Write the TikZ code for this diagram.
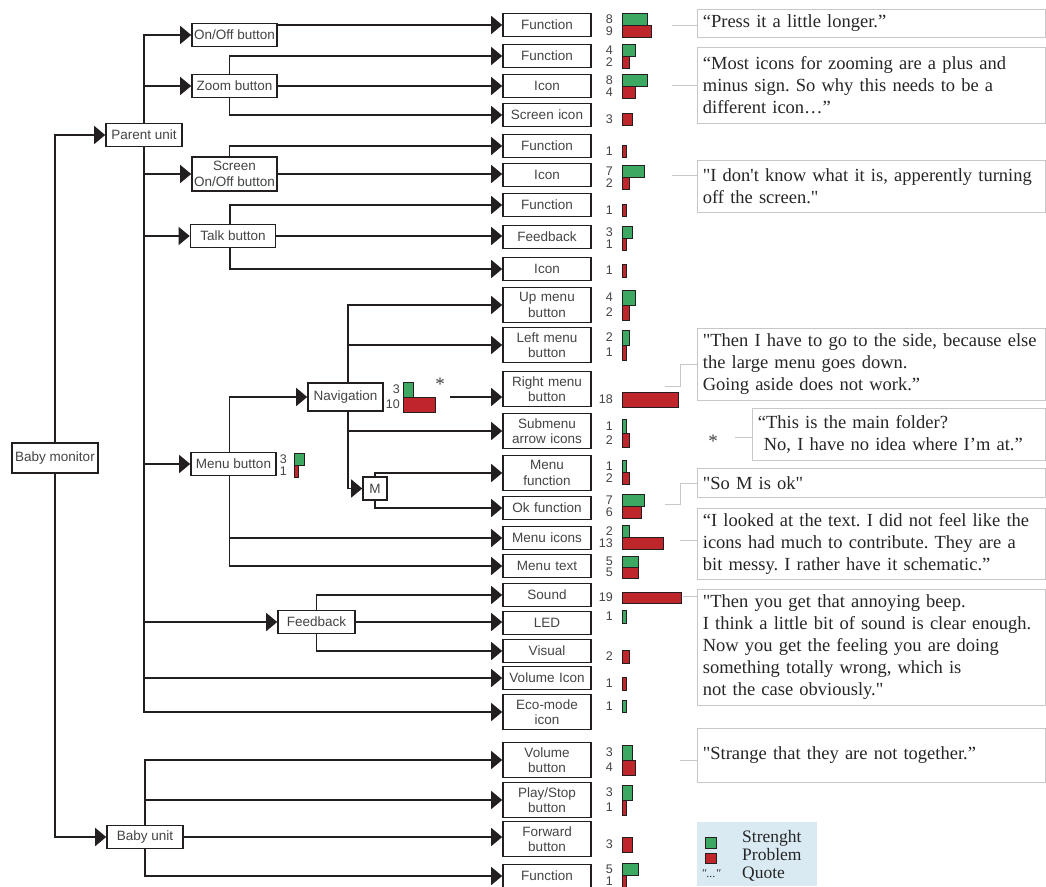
\documentclass[tikz,border=0pt]{standalone}
\usepackage{fontspec}
\setmainfont{Liberation Serif}
\setsansfont{Liberation Sans}
\newfontfamily\quotefont{Liberation Serif}
\usetikzlibrary{arrows.meta}
\definecolor{strength}{RGB}{61,168,98}
\definecolor{problem}{RGB}{190,38,44}
\definecolor{legendbg}{RGB}{218,234,242}
\definecolor{ink}{RGB}{35,31,32}
\definecolor{labelgray}{RGB}{68,68,68}
\frenchspacing
\begin{document}
\begin{tikzpicture}[x=1pt, y=-1pt, >={Triangle[length=11pt, width=18pt]},
    every node/.style={font=\sffamily\fontsize{13.5}{15.5}\selectfont, text=labelgray},
    box/.style={draw=ink, line width=1.6pt, fill=white, inner xsep=2pt, inner ysep=3pt, minimum height=23pt, align=center},
    unit/.style={box, minimum width=85pt},
    leaf/.style={box, text width=82pt, minimum width=88pt},
    leaftwo/.style={leaf, minimum height=35pt},
    wire/.style={draw=ink, line width=1.4pt},
    barbox/.style={draw=ink, line width=0.9pt},
    tally/.style={font=\sffamily\fontsize{12.5}{12.5}\selectfont, anchor=east, inner sep=0pt},
    remark/.style={draw=black!22, line width=0.7pt, anchor=north west, text width=337pt, inner xsep=5.5pt, inner ysep=2pt,
        align=left, font={\quotefont\fontsize{18.5}{22}\selectfont\hyphenpenalty=10000}, text=black!85},
    remarkline/.style={draw=black!22, line width=0.7pt},
    starmark/.style={font=\quotefont\fontsize{19}{19}\selectfont, text=black!75, inner sep=0pt},
    keytext/.style={font=\quotefont\fontsize{17.5}{18}\selectfont, text=black!85, anchor=base west, inner sep=0pt}]
    \useasboundingbox (0,0) rectangle (1046,886);
    \fill[white] (0,0) rectangle (1046,886);

    \node[box, minimum width=86pt, minimum height=30pt] (monitor) at (55,458) {Baby monitor};
    \node[box, minimum width=76pt] (parent) at (144,135) {Parent unit};
    \node[box, minimum width=76pt] (baby) at (145,837) {Baby unit};

    \node[unit] (onOff) at (234.5,35) {On/Off button};
    \node[unit] (zoom) at (234.5,86) {Zoom button};
    \node[unit, minimum height=34pt] (screen) at (234.5,174) {Screen\\On/Off button};
    \node[unit] (talk) at (233,236) {Talk button};
    \node[unit] (menu) at (233.5,464) {Menu button};
    \node[box, minimum width=77pt] (feedback) at (316.5,622) {Feedback};
    \node[box, minimum width=75pt, minimum height=28pt] (nav) at (345.5,397) {Navigation};
    \node[box, minimum width=24pt] (m) at (375,488.5) {M};

    \node[leaf] (fOnOff) at (547,25) {Function};
    \node[leaf] (fZoom) at (547,56) {Function};
    \node[leaf] (iZoom) at (547,86) {Icon};
    \node[leaf] (screenIcon) at (547,115) {Screen icon};
    \node[leaf] (fScreen) at (547,146) {Function};
    \node[leaf] (iScreen) at (547,175) {Icon};
    \node[leaf] (fTalk) at (547,205) {Function};
    \node[leaf] (fbTalk) at (547,237) {Feedback};
    \node[leaf] (iTalk) at (547,269) {Icon};
    \node[leaftwo] (upMenu) at (547,305) {Up menu\\button};
    \node[leaftwo] (leftMenu) at (547,345) {Left menu\\button};
    \node[leaftwo] (rightMenu) at (547,389) {Right menu\\button};
    \node[leaftwo] (subMenu) at (547,431) {Submenu\\arrow icons};
    \node[leaftwo] (menuFunc) at (547,473) {Menu\\function};
    \node[leaf] (okFunc) at (547,508) {Ok function};
    \node[leaf] (menuIcons) at (547,538) {Menu icons};
    \node[leaf] (menuText) at (547,566) {Menu text};
    \node[leaf] (sound) at (547,595) {Sound};
    \node[leaf] (led) at (547,623) {LED};
    \node[leaf] (visual) at (547,651) {Visual};
    \node[leaf] (volIcon) at (547,678) {Volume Icon};
    \node[leaftwo] (ecoIcon) at (547,712) {Eco-mode\\icon};
    \node[leaftwo] (volButton) at (547,760) {Volume\\button};
    \node[leaftwo] (playButton) at (547,800) {Play/Stop\\button};
    \node[leaftwo] (fwdButton) at (547,839) {Forward\\button};
    \node[leaf] (fBaby) at (547,876) {Function};

    \draw[wire, ->] (monitor.north) |- (parent.west);
    \draw[wire, ->] (monitor.south) |- (baby.west);
    \foreach \n in {onOff, zoom}
        \draw[wire, ->] (parent.north) |- (\n.west);
    \foreach \n in {screen, talk, menu, feedback, volIcon, ecoIcon}
        \draw[wire, ->] (parent.south) |- (\n.west);

    \draw[wire, ->] (onOff.east |- fOnOff) -- (fOnOff.west);
    \draw[wire, ->] ([xshift=-5pt]zoom.north) |- (fZoom.west);
    \draw[wire, ->] (zoom) -- (iZoom);
    \draw[wire, ->] ([xshift=-5pt]zoom.south) |- (screenIcon.west);
    \draw[wire, ->] ([xshift=-5pt]screen.north) |- (fScreen.west);
    \draw[wire, ->] (screen.east) -- (screen.east -| iScreen.west);
    \draw[wire, ->] ([xshift=-3pt]talk.north) |- (fTalk.west);
    \draw[wire, ->] (talk.east) -- (talk.east -| fbTalk.west);
    \draw[wire, ->] ([xshift=-3pt]talk.south) |- (iTalk.west);

    \draw[wire, ->] ([xshift=-4pt]menu.north) |- (nav.west);
    \draw[wire, ->] ([xshift=-4pt]menu.south) |- (menuIcons.west);
    \draw[wire, ->] ([xshift=-4pt]menu.south) |- (menuText.west);
    \foreach \n in {upMenu, leftMenu}
        \draw[wire, ->] ([xshift=2.5pt]nav.north) |- (\n.west);
    \foreach \n in {subMenu, m}
        \draw[wire, ->] ([xshift=2.5pt]nav.south) |- (\n.west);
    \coordinate (navOut) at (450,397);
    \draw[wire, ->] (navOut) -- (navOut -| rightMenu.west);
    \draw[wire, ->] (m.north) |- (menuFunc.west);
    \draw[wire, ->] (m.south) |- (okFunc.west);

    \draw[wire, ->] (feedback.north) |- (sound.west);
    \draw[wire, ->] (feedback.east) -- (feedback.east -| led.west);
    \draw[wire, ->] (feedback.south) |- (visual.west);

    \draw[wire, ->] (baby.north) |- (volButton.west);
    \draw[wire, ->] (baby.north) |- (playButton.west);
    \draw[wire, ->] (baby.east) -- (baby.east -| fwdButton.west);
    \draw[wire, ->] (baby.south) |- (fBaby.west);

    \foreach \x/\d/\m/\g/\r/\h [count=\k] in {
        622/9/25/8/9/12, 622/9/56/4/2/12, 622/9/86/8/4/12, 622/9/113/0/3/12,
        622/9/145/0/1/12, 622/9/177/7/2/12, 622/9/204/0/1/12, 622/9/238/3/1/12,
        622/9/264/0/1/13, 622/9/305/4/2/15, 622/9/345/2/1/15, 622/9/392/0/18/15,
        622/9/433/1/2/14, 622/9/472/1/2/12, 622/9/506/7/6/12, 622/9/537/2/13/12,
        622/9/567/5/5/11, 622/9/592/0/19/11, 622/9/623/1/0/13, 622/9/650/0/2/13,
        622/9/677/0/1/13, 622/9/712/1/0/12, 622/9/760/3/4/15, 622/9/800/3/1/15,
        622/9/837/0/3/15, 622/9/875/5/1/12, 294/7/465/3/1/12, 403/3/397/3/10/15} {
        \ifnum\g>0
            \draw[barbox, fill=strength] (\x,\m-\h) rectangle ++({1.5+3.05*\g},\h);
            \node[tally] (g\k) at (\x-\d,\m-\h/2) {\g};
        \fi
        \ifnum\r>0
            \draw[barbox, fill=problem] (\x,\m) rectangle ++({1.5+3.05*\r},\h);
            \node[tally] (r\k) at (\x-\d,\m+\h/2) {\r};
        \fi
    }

    \node[starmark] (navStar) at (440,384) {*};
    \node[starmark] (quoteStar) at (713,441) {*};

    \node[remark, minimum height=28pt] (q1) at (697,9) {“Press it a little longer.”};
    \node[remark, minimum height=76pt] (q2) at (697,47) {“Most icons for zooming are a plus and\\minus sign. So why this needs to be a\\different icon…”};
    \node[remark, minimum height=52pt] (q3) at (697,160) {"I don't know what it is, apperently turning\\off the screen."};
    \node[remark, minimum height=72pt] (q4) at (697,328) {"Then I have to go to the side, because else\\the large menu goes down.\\Going aside does not work.”};
    \node[remark, minimum height=52pt, text width=282pt] (q5) at (752,408) {“This is the main folder?\\\hspace*{6pt}No, I have no idea where I’m at.”};
    \node[remark, minimum height=29pt] (q6) at (697,468) {"So M is ok"};
    \node[remark, minimum height=71pt] (q7) at (697,508) {“I looked at the text. I did not feel like the\\icons had much to contribute. They are a\\bit messy. I rather have it schematic.”};
    \node[remark, minimum height=116pt] (q8) at (697,589) {"Then you get that annoying beep.\\I think a little bit of sound is clear enough.\\Now you get the feeling you are doing\\something totally wrong, which is\\not the case obviously."};
    \node[remark, minimum height=54pt] (q9) at (697,728) {"Strange that they are not together.”};

    \coordinate (c1) at (672,25);
    \coordinate (c2) at (672,85);
    \coordinate (c3) at (672,175);
    \coordinate (c4) at (665,386);
    \coordinate (c5) at (735,437);
    \coordinate (c6) at (665,504);
    \coordinate (c7) at (680,540);
    \coordinate (c8) at (683,596);
    \coordinate (c9) at (680,760);
    \foreach \c/\q in {c1/q1, c2/q2, c3/q3, c5/q5, c7/q7, c8/q8, c9/q9}
        \draw[remarkline] (\c) -- (\c -| \q.west);
    \draw[remarkline] (c4) -- ++(15,0) |- (q4.west);
    \draw[remarkline] (c6) -- ++(15,0) |- (q6.west);

    \fill[legendbg] (697,822) rectangle (817,886);
    \draw[barbox, fill=strength] (705,837) rectangle (716,848);
    \draw[barbox, fill=problem] (705,853) rectangle (716,863);
    \node[font=\quotefont\fontsize{12}{12}\selectfont\itshape, text=black!80, inner sep=0pt] (keyMark) at (711,874) {"..."};
    \node[keytext] (keyStrength) at (742,842) {Strenght};
    \node[keytext] (keyProblem) at (742,860) {Problem};
    \node[keytext] (keyQuote) at (742,878) {Quote};
\end{tikzpicture}
\end{document}
